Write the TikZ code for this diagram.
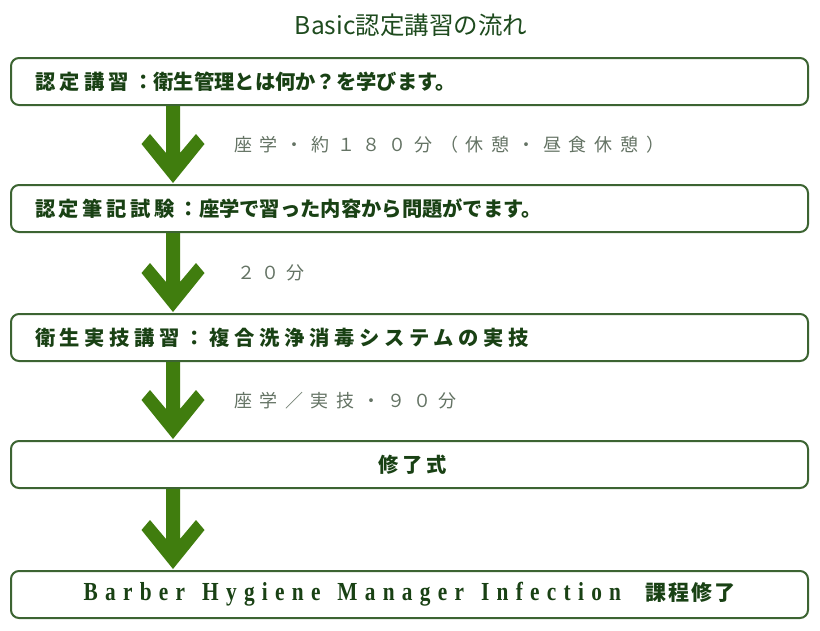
\documentclass[tikz,border=0pt]{standalone}
\usepackage{fontspec}
\usetikzlibrary{calc}
\newfontfamily\jp{Noto Sans CJK JP}
\newfontfamily\lat{Liberation Serif}[FakeStretch=0.82]
\newcommand\ls[2]{{\addfontfeature{LetterSpace=#1}#2}}
\definecolor{boxline}{RGB}{60,100,50}
\definecolor{arrfill}{RGB}{64,125,14}
\definecolor{boxtext}{RGB}{25,65,20}
\definecolor{titletext}{RGB}{30,75,30}
\definecolor{labeltext}{RGB}{100,115,100}
\tikzset{
  box/.style={draw=boxline, line width=2pt, rounded corners=8pt, fill=white,
    minimum height=47pt, text width=749pt, inner xsep=24pt, inner ysep=0pt,
    text=boxtext, font=\jp\bfseries\fontsize{20.3}{21}\selectfont},
  boxl/.style={box, align=left},
  boxc/.style={box, align=center},
  lbl/.style={anchor=west, inner sep=0pt, text=labeltext,
    font=\jp\fontsize{18}{19}\selectfont},
  arr/.style={fill=arrfill}
}
\newcommand\garrow[2]{%
  \coordinate (top#1) at (#1.south -| ax);
  \coordinate (tip#1) at ([yshift=1pt]#2.north -| ax);
  \fill[arr] ([shift={(-7,0)}]top#1) -- ([shift={(-7,-30)}]tip#1)
    -- ([shift={(-23,-49)}]tip#1) -- ([shift={(-31.5,-39)}]tip#1)
    -- (tip#1) -- ([shift={(31.5,-39)}]tip#1) -- ([shift={(23,-49)}]tip#1)
    -- ([shift={(7,-30)}]tip#1) -- ([shift={(7,0)}]top#1) -- cycle;}
\newcommand\wsp{\hspace{17pt}}
\begin{document}
\begin{tikzpicture}[x=1pt,y=-1pt]
\useasboundingbox (0,0) rectangle (820,630);
\fill[white] (0,0) rectangle (820,630);
\coordinate (ax) at (173,0);
\node[text=titletext, font=\jp\fontsize{24.5}{25}\selectfont] (title) at (411,25) {Basic認定講習の流れ};
\node[boxl] (b1) at (409.5,81.5) {\ls{21}{認定講習：}衛生管理とは何か？を学びます。};
\node[boxl] (b2) at (409.5,208.5) {\ls{18}{認定筆記試験：}座学で習った内容から問題がでます。};
\node[boxl] (b3) at (409.5,337.5) {\ls{23}{衛生実技講習：複合洗浄消毒システムの実技}};
\node[boxc] (b4) at (409.5,464.5) {\hspace{6pt}\ls{18}{修了式}};
\node[boxc] (b5) at (409.5,594.5) {{\lat\bfseries\fontsize{26}{26}\selectfont\addfontfeature{LetterSpace=28}Barber\wsp Hygiene\wsp Manager\wsp Infection}\hspace{24pt}{\fontsize{21}{21}\selectfont\ls{10}{課程修了}}};
\garrow{b1}{b2}
\garrow{b2}{b3}
\garrow{b3}{b4}
\garrow{b4}{b5}
\node[lbl] (l1) at (234,145) {\ls{43}{座学・約１８０分（休憩・昼食休憩）}};
\node[lbl] (l2) at (237,273) {\ls{36}{２０分}};
\node[lbl] (l3) at (234,401) {\ls{42}{座学／実技・９０分}};
\end{tikzpicture}
\end{document}
